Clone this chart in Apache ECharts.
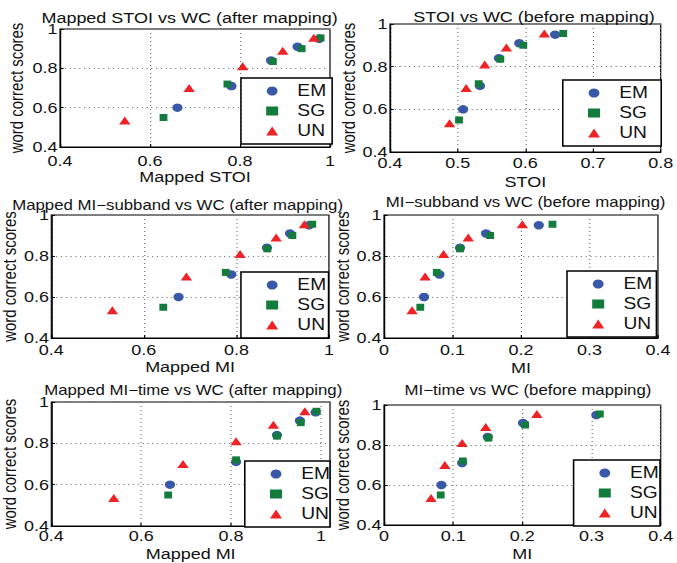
<!DOCTYPE html>
<html>
<head>
<meta charset="utf-8" />
<title>Word correct scores vs intelligibility measures</title>
<script src="https://cdn.jsdelivr.net/npm/echarts@6.0.0/dist/echarts.min.js"></script>
<style>
    body { margin: 0; background: #fff; overflow: hidden; }
    /* the source figure is stretched horizontally, so we stretch too */
    #grafico { width: 564px; height: 563px; transform: scaleX(1.2); transform-origin: 0 0; }
</style>
</head>
<body>
<div id="grafico"></div>
<script>
// word correct scores (y), same for every panel
const wcEM = [0.60, 0.71, 0.84, 0.91, 0.95];
const wcSG = [0.55, 0.72, 0.835, 0.90, 0.955];
const wcUN = [0.535, 0.70, 0.81, 0.89, 0.955];

// x values per panel
const mappedStoiEM = [0.661, 0.781, 0.869, 0.928, 0.976];
const mappedStoiSG = [0.630, 0.772, 0.873, 0.937, 0.979];
const mappedStoiUN = [0.544, 0.687, 0.806, 0.895, 0.964];

const stoiEM = [0.508, 0.533, 0.561, 0.591, 0.644];
const stoiSG = [0.502, 0.531, 0.563, 0.597, 0.656];
const stoiUN = [0.488, 0.5125, 0.540, 0.572, 0.628];

const mappedMiSubEM = [0.675, 0.789, 0.866, 0.916, 0.957];
const mappedMiSubSG = [0.642, 0.777, 0.867, 0.921, 0.964];
const mappedMiSubUN = [0.532, 0.692, 0.808, 0.886, 0.947];

const miSubEM = [0.0585, 0.081, 0.111, 0.149, 0.226];
const miSubSG = [0.053, 0.077, 0.111, 0.155, 0.246];
const miSubUN = [0.041, 0.060, 0.087, 0.123, 0.202];

const mappedMiTimeEM = [0.664, 0.811, 0.902, 0.953, 0.988];
const mappedMiTimeSG = [0.660, 0.811, 0.902, 0.955, 0.990];
const mappedMiTimeUN = [0.539, 0.693, 0.811, 0.894, 0.964];

const miTimeEM = [0.083, 0.113, 0.150, 0.201, 0.307];
const miTimeSG = [0.082, 0.114, 0.151, 0.204, 0.312];
const miTimeUN = [0.068, 0.088, 0.113, 0.147, 0.221];

const groupNames = ["EM", "SG", "UN"];
const titles = [
    "Mapped STOI vs WC (after mapping)",
    "STOI vs WC (before mapping)",
    "Mapped MI\u2212subband vs WC (after mapping)",
    "MI\u2212subband vs WC (before mapping)",
    "Mapped MI\u2212time vs WC (after mapping)",
    "MI\u2212time vs WC (before mapping)"
];
const xNames = ["Mapped STOI", "STOI", "Mapped MI", "MI", "Mapped MI", "MI"];
const yName = "word correct scores";

const xSets = [
    [mappedStoiEM, mappedStoiSG, mappedStoiUN],
    [stoiEM, stoiSG, stoiUN],
    [mappedMiSubEM, mappedMiSubSG, mappedMiSubUN],
    [miSubEM, miSubSG, miSubUN],
    [mappedMiTimeEM, mappedMiTimeSG, mappedMiTimeUN],
    [miTimeEM, miTimeSG, miTimeUN]
];
const wcSets = [wcEM, wcSG, wcUN];

const fonte = "'Liberation Sans', Arial, Helvetica, sans-serif";
const cores = ["#3a58a8", "#137b3b", "#ee2326"];
const simbolos = ["circle", "rect", "triangle"];
const tamanhos = [8.5, [6.5, 7], [9.5, 8]];

// layout of the six panels (chart units, before the 1.2 stretch)
const paineis = [
    {g: [50, 29, 225, 118], x: [0.4, 1, 0.2], t: [153, 14, 15], leg: [200.8, 78, 5], yGap: 28, xGap: 20, xMargin: 7},
    {g: [325, 24, 227.5, 128], x: [0.4, 0.8, 0.1], t: [440, 13, 15], leg: [469, 80, 11], yGap: 26, xGap: 23, xMargin: 4},
    {g: [40.8, 215, 233.3, 123], x: [0.4, 1, 0.2], t: [143, 201, 14], leg: [200.8, 272, 2], yGap: 22, xGap: 22, xMargin: 5},
    {g: [320, 215, 228.3, 123], x: [0, 0.4, 0.1], t: [433, 198, 14], leg: [472.5, 271, 3.5], yGap: 20, xGap: 23, xMargin: 5},
    {g: [40, 402, 235, 125], x: [0.4, 1.02, 0.2], t: [156, 386, 14], leg: [204, 461, 0], yGap: 20, xGap: 21, xMargin: 3},
    {g: [320, 405, 233.3, 121], x: [0, 0.4, 0.1], t: [435, 386, 14], leg: [478, 460, 1], yGap: 20, xGap: 22, xMargin: 4}
];

const fmt = v => String(+v.toFixed(2));

const option = {
    animation: false,
    backgroundColor: "#fff",
    title: [], grid: [], xAxis: [], yAxis: [], legend: [], series: []
};

paineis.forEach((p, i) => {
    option.title.push({
        text: titles[i], left: p.t[0], top: p.t[1] - p.t[2] / 2 - 1, textAlign: "center",
        textStyle: {fontFamily: fonte, fontSize: p.t[2], fontWeight: "normal", color: "#111"}
    });
    option.grid.push({
        left: p.g[0], top: p.g[1], width: p.g[2], height: p.g[3],
        show: true, borderColor: "#000", borderWidth: 1
    });
    option.xAxis.push({
        type: "value", gridIndex: i, min: p.x[0], max: p.x[1], interval: p.x[2],
        name: xNames[i], nameLocation: "middle", nameGap: p.xGap,
        nameTextStyle: {fontFamily: fonte, fontSize: 15, color: "#111"},
        axisLine: {lineStyle: {color: "#000"}},
        axisTick: {inside: true, length: 3, lineStyle: {color: "#000"}},
        axisLabel: {margin: p.xMargin, fontFamily: fonte, fontSize: 15, color: "#111",
            formatter: fmt, showMaxLabel: p.x[1] === 1.02 ? false : null},
        splitLine: {lineStyle: {type: [1, 3], color: "#777"}}
    });
    option.yAxis.push({
        type: "value", gridIndex: i, min: 0.4, max: 1, interval: 0.2,
        name: yName, nameLocation: "middle", nameGap: p.yGap,
        nameTextStyle: {fontFamily: fonte, fontSize: 15, color: "#111"},
        axisLine: {show: true, lineStyle: {color: "#000"}},
        axisTick: {show: true, inside: true, length: 3, lineStyle: {color: "#000"}},
        axisLabel: {margin: 2, fontFamily: fonte, fontSize: 15, color: "#111", formatter: fmt},
        splitLine: {lineStyle: {type: [1, 3], color: "#777"}}
    });
    option.legend.push({
        data: groupNames, orient: "vertical", left: p.leg[0], top: p.leg[1],
        padding: [5, p.leg[2], 5, 21], itemGap: 4, itemWidth: 10, itemHeight: 9,
        borderColor: "#000", borderWidth: 1.3, borderRadius: 0, backgroundColor: "#fff",
        selectedMode: false,
        formatter: n => "{n|" + n + "}",
        textStyle: {fontFamily: fonte, fontSize: 16, color: "#111",
            rich: {n: {fontFamily: fonte, fontSize: 16, color: "#111", padding: [0, 0, 0, 11]}}}
    });
    groupNames.forEach((nome, k) => {
        option.series.push({
            type: "scatter", name: nome, xAxisIndex: i, yAxisIndex: i,
            symbol: simbolos[k], symbolSize: tamanhos[k],
            itemStyle: {color: cores[k], opacity: 1},
            data: xSets[i][k].map((x, j) => [x, wcSets[k][j]])
        });
    });
});

const myChart = echarts.init(document.getElementById("grafico"), null, {renderer: "svg"});
myChart.setOption(option);
</script>
</body>
</html>
